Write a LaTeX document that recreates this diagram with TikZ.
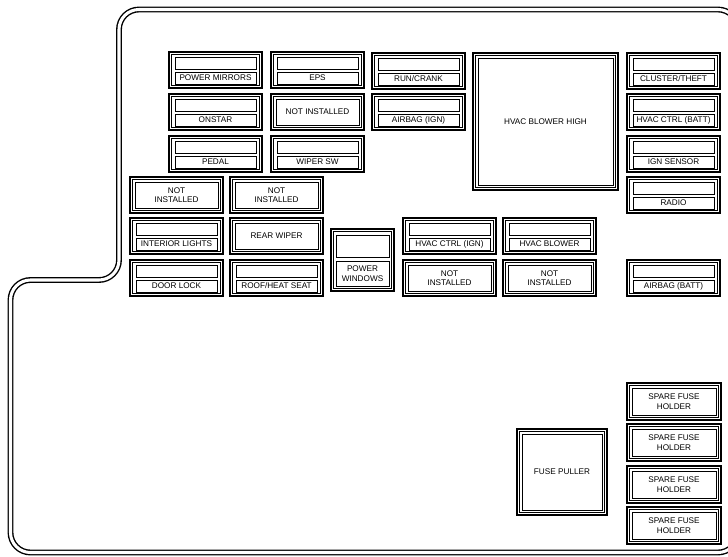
\documentclass[tikz,border=0pt]{standalone}
\usepackage{fontspec}
\setmainfont{Liberation Sans}

\begin{document}
\begin{tikzpicture}[
  x=0.03cm, y=-0.03cm,
  casing/.style={
    draw,
    double,
    line width=1.2pt,
    double distance=2.6pt,
    rounded corners=0.6cm
  },
  fuse/.style={draw,line width=1.3pt},
  fuserim/.style={draw,line width=0.4pt},
  slot/.style={draw,line width=0.8pt},
  fuselabel/.style={font=\fontsize{7}{8}\selectfont,align=center,inner sep=0pt}
]
  \clip (0,0) rectangle (728,556);
  % housing outline
  \draw[casing] (400,9.5) -- (738,9.5) -- (738,552.5) -- (10.5,552.5)
    -- (10.5,280) -- (119,280) -- (119,9.5) -- cycle;
  % fuses with two slots
  \foreach \x/\y/\name/\txt in {
    169/52/pmirrors/POWER MIRRORS, 271/52/eps/EPS, 372/53/runcrank/{RUN/CRANK},
    627/53/cluster/{CLUSTER/THEFT}, 169/94/onstar/ONSTAR,
    372/94/airbagign/AIRBAG (IGN), 627/94/hvacbatt/HVAC CTRL (BATT),
    169/136/pedal/PEDAL, 271/136/wipersw/WIPER SW, 627/136/ignsensor/IGN SENSOR,
    627/177/radio/RADIO, 130/218/intlights/INTERIOR LIGHTS,
    403/218/hvacign/HVAC CTRL (IGN), 503/218/hvacblower/HVAC BLOWER,
    130/260/doorlock/DOOR LOCK, 230/260/roofseat/{ROOF/HEAT SEAT},
    627/260/airbagbatt/AIRBAG (BATT)}
  {
    \draw[fuse] (\x,\y) rectangle ++(93,36);
    \draw[fuserim] (\x+2.5,\y+2.5) rectangle ++(88,31);
    \draw[slot] (\x+6,\y+5) rectangle ++(81,12);
    \draw[slot] (\x+6,\y+20) rectangle ++(81,12);
    \node[fuselabel] (\name) at (\x+46.5,\y+26) {\txt};
  }
  % single boxes
  \foreach \x/\y/\w/\h/\name/\txt in {
    271/94/93/36/notinsta/NOT INSTALLED, 130/177/93/36/notinstb/{NOT\\INSTALLED},
    230/177/93/36/notinstc/{NOT\\INSTALLED}, 230/218/93/36/rearwiper/REAR WIPER,
    403/260/93/36/notinstd/{NOT\\INSTALLED}, 503/260/93/36/notinste/{NOT\\INSTALLED},
    473/53/145/137/hvachigh/HVAC BLOWER HIGH, 517/429/90/86/puller/FUSE PULLER,
    627/383/94/37/sparea/{SPARE FUSE\\HOLDER}, 627/424/94/37/spareb/{SPARE FUSE\\HOLDER},
    627/466/94/37/sparec/{SPARE FUSE\\HOLDER}, 627/507/94/37/spared/{SPARE FUSE\\HOLDER}}
  {
    \draw[fuse] (\x,\y) rectangle ++(\w,\h);
    \draw[fuserim] (\x+2.5,\y+2.5) rectangle ++(\w-5,\h-5);
    \draw[slot] (\x+5,\y+5) rectangle ++(\w-10,\h-10);
    \node[fuselabel] (\name) at (\x+\w/2,\y+\h/2) {\txt};
  }
  % power windows
  \draw[fuse] (331,229) rectangle ++(63,62);
  \draw[fuserim] (333.5,231.5) rectangle ++(58,57);
  \draw[slot] (336,235) rectangle ++(53,22);
  \draw[slot] (336,261) rectangle ++(53,25);
  \node[fuselabel] (pwindows) at (362.5,273.5) {POWER\\WINDOWS};
\end{tikzpicture}
\end{document}
